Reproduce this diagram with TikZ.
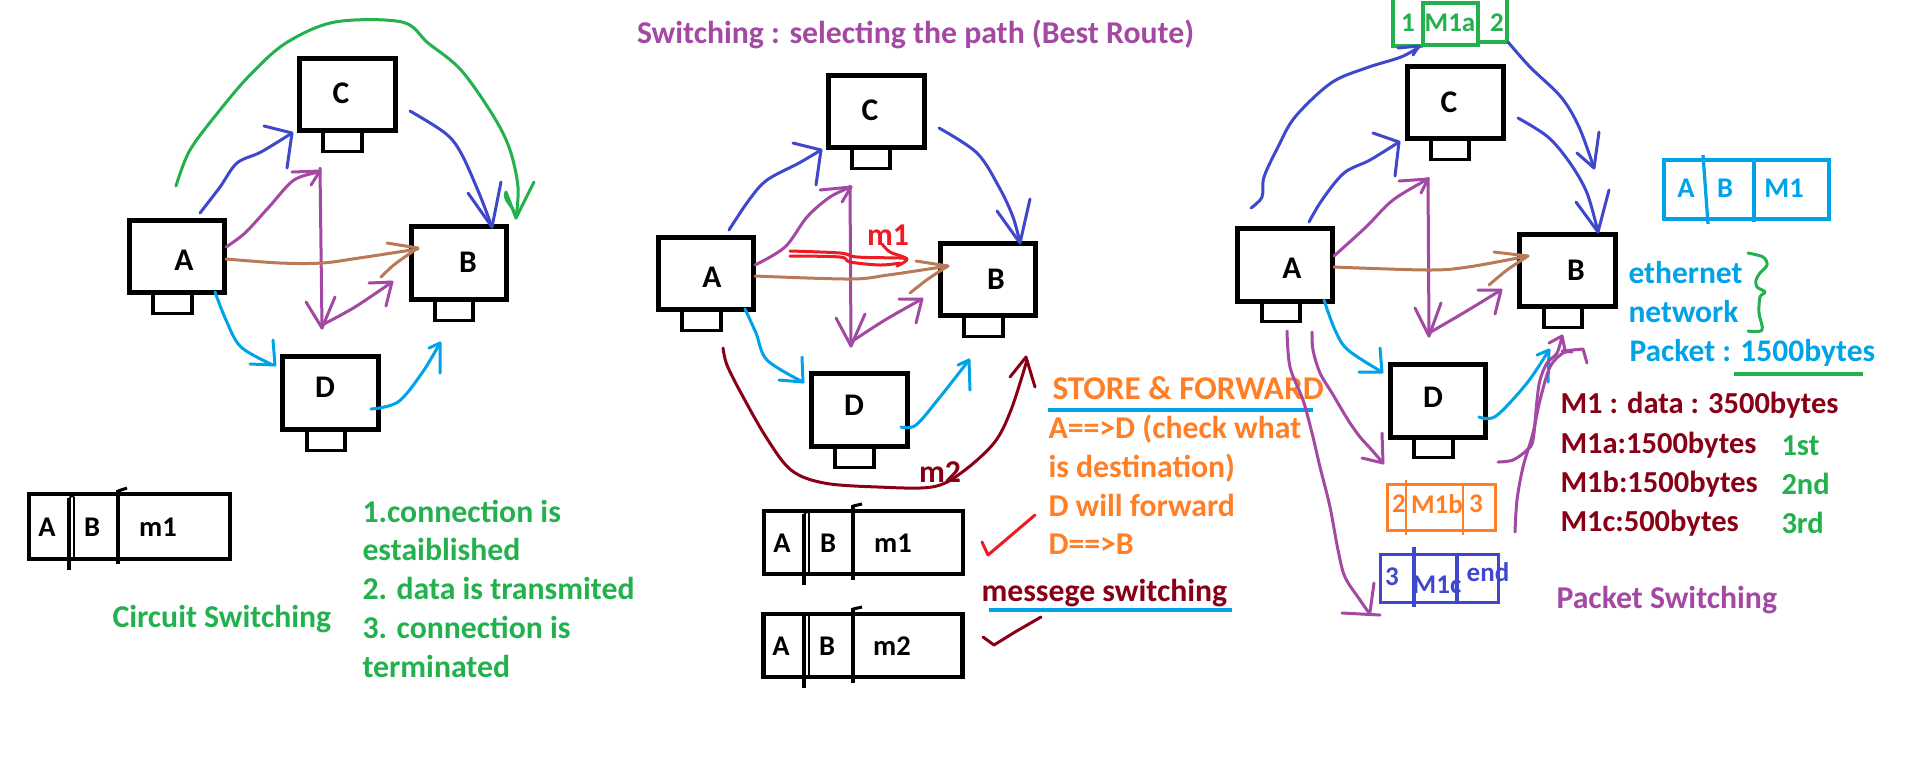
\documentclass[tikz,border=0pt]{standalone}
\usepackage{fontspec}
\setmainfont{Carlito}
\definecolor{ppurple}{HTML}{A349A4}
\definecolor{pindigo}{HTML}{3F48CC}
\definecolor{pblue}{HTML}{00A2E8}
\definecolor{pgreen}{HTML}{22B14C}
\definecolor{pbrown}{HTML}{B97A57}
\definecolor{porange}{HTML}{FF7F27}
\definecolor{pred}{HTML}{ED1C24}
\definecolor{pdark}{HTML}{880015}
\tikzset{
  pen/.style={line width=1.2pt, line cap=round, line join=round},
  pc/.style={draw=black, line width=1.9pt, inner sep=0pt, minimum width=38.2pt, minimum height=29pt},
  sb/.style={draw=black, line width=1.5pt, inner sep=0pt, minimum width=15.4pt, minimum height=8.4pt},
  frame/.style={draw=black, line width=1.7pt, inner sep=0pt},
  lbl/.style={inner sep=0pt, font=\fontsize{12.6}{14}\selectfont\bfseries},
  txt/.style={inner sep=0pt, font=\fontsize{12.7}{14}\selectfont\bfseries},
  btxt/.style={inner sep=0pt, font=\fontsize{12.6}{14}\selectfont\bfseries},
  rtxt/.style={inner sep=0pt, font=\fontsize{12.2}{14}\selectfont\bfseries},
  ftxt/.style={inner sep=0pt, font=\fontsize{11.4}{13}\selectfont\bfseries},
  ptxt/.style={inner sep=0pt, font=\fontsize{10.8}{12}\selectfont\bfseries},
  curve/.style={pen, smooth, tension=0.55},
}
\begin{document}
\begin{tikzpicture}[x=0.4pt, y=-0.4pt]
\fill[white] (0,0) rectangle (1914,763);
\useasboundingbox (0,0) rectangle (1914,763);

% ---------------- title
\node[txt, text=ppurple, anchor=base] (title) at (915.5,43) {Switching : selecting the path (Best Route)};

% ---------------- computers: left diagram
\node[sb] (lCs) at (342.5,141) {};
\node[pc] (lC) at (347.5,94.5) {};
\node[lbl] (lCl) at (341,93) {C};
\node[sb] (lAs) at (172.5,303) {};
\node[pc] (lA) at (177,256.5) {};
\node[lbl] (lAl) at (184,260) {A};
\node[sb] (lBs) at (454,310) {};
\node[pc] (lB) at (459,263) {};
\node[lbl] (lBl) at (468,262) {B};
\node[sb] (lDs) at (326,440) {};
\node[pc] (lD) at (330.5,393) {};
\node[lbl] (lDl) at (325,387) {D};

% ---------------- computers: middle diagram
\node[sb] (mCs) at (871,158) {};
\node[pc] (mC) at (876.5,111.5) {};
\node[lbl] (mCl) at (870,110) {C};
\node[sb] (mAs) at (701.5,320) {};
\node[pc] (mA) at (706,273.5) {};
\node[lbl] (mAl) at (712,277) {A};
\node[sb] (mBs) at (983.5,326) {};
\node[pc] (mB) at (988,279.5) {};
\node[lbl] (mBl) at (996,279) {B};
\node[sb] (mDs) at (854.5,457) {};
\node[pc] (mD) at (859.5,410) {};
\node[lbl] (mDl) at (854,405) {D};

% ---------------- computers: right diagram
\node[sb] (rCs) at (1450,149) {};
\node[pc] (rC) at (1455.5,102.5) {};
\node[lbl] (rCl) at (1449,102) {C};
\node[sb] (rAs) at (1281,311) {};
\node[pc] (rA) at (1285,265) {};
\node[lbl] (rAl) at (1292,268) {A};
\node[sb] (rBs) at (1563,317) {};
\node[pc] (rB) at (1567.5,270.5) {};
\node[lbl] (rBl) at (1576,270) {B};
\node[sb] (rDs) at (1433.5,447) {};
\node[pc] (rD) at (1438,401) {};
\node[lbl] (rDl) at (1433,397) {D};

% ================= left diagram arrows
% green arc A -> B
\draw[pgreen, curve] plot coordinates {(176,186) (190,150) (220,110) (250,75) (286,43) (335,22) (402,22) (428,43) (461,70) (494,117) (510,150) (518,187) (516,218)};
\draw[pgreen, pen] (506,192) -- (516,218) -- (534,182);
\draw[pgreen, pen] (506,192) .. controls (503,200) and (512,205) .. (514,212);
% indigo A -> C -> B
\draw[pindigo, curve] plot coordinates {(200,213) (220,187) (237,163) (261,152) (292,133)};
\draw[pindigo, pen] (264,126) -- (292,133) -- (287,168);
\draw[pindigo, curve] plot coordinates {(410,111) (445,133) (461,153) (479,193) (492,227)};
\draw[pindigo, pen] (468,193) -- (492,227) -- (501,182);
% purple A -> top, vertical, bottom -> B
\draw[ppurple, curve] plot coordinates {(226,247) (245,233) (269,207) (294,180) (320,172)};
\draw[ppurple, pen] (292,172) -- (320,171) -- (311,185);
\draw[ppurple, pen] (320,168) -- (322,328);
\draw[ppurple, pen] (306,302) -- (322,328) -- (335,297);
\draw[ppurple, curve] plot coordinates {(322,325) (355,307) (392,282)};
\draw[ppurple, pen] (369,283) -- (392,282) -- (386,306);
% brown A -> B
\draw[pbrown, curve] plot coordinates {(226,259) (280,263) (322,263) (359,258) (418,249)};
\draw[pbrown, pen] (387,243) -- (418,248);
\draw[pbrown, curve] plot coordinates {(381,277) (395,264) (418,248)};
% light blue A -> D -> B
\draw[pblue, curve] plot coordinates {(215,292) (226,320) (241,347) (273,365)};
\draw[pblue, pen] (250,364) -- (275,365) -- (273,340);
\draw[pblue, curve] plot coordinates {(371,409) (398,402) (422,373) (440,343)};
\draw[pblue, pen] (429,348) -- (440,343) -- (440,373);

% left frame
\node[frame, minimum width=80.4pt, minimum height=26pt] (lF) at (129.5,526.5) {};
\draw[black, line width=1.5pt] (69,498) -- (69,570);
\draw[black, line width=0.6pt] (74,497) -- (74,560);
\draw[black, line width=0.8pt] (69,500) .. controls (70,496) and (72,495) .. (74,497);
\draw[black, line width=1.5pt] (118,490) -- (118,564);
\draw[black, line width=1.2pt] (118,491) -- (127,488);
\node[ftxt] (lFa) at (47,527) {A};
\node[ftxt] (lFb) at (92,527) {B};
\node[ftxt] (lFm) at (158,527) {m1};

% left texts
\node[txt, text=pgreen, anchor=base west] (cs1) at (362,522) {1.connection is};
\node[txt, text=pgreen, anchor=base west] (cs2) at (362,560) {estaiblished};
\node[txt, text=pgreen, anchor=base west] (cs3) at (362,599) {2. data is transmited};
\node[txt, text=pgreen, anchor=base west] (cs4) at (362,638) {3. connection is};
\node[txt, text=pgreen, anchor=base west] (cs5) at (362,677) {terminated};
\node[txt, text=pgreen, anchor=base west] (circ) at (112,627) {Circuit Switching};

% ================= middle diagram arrows
\draw[pindigo, curve] plot coordinates {(729,230) (749,200) (767,180) (799,163) (821,150)};
\draw[pindigo, pen] (793,143) -- (821,150) -- (816,185);
\draw[pindigo, curve] plot coordinates {(939,128) (977,153) (999,187) (1013,217) (1020,243)};
\draw[pindigo, pen] (997,211) -- (1020,243) -- (1030,199);
\draw[ppurple, curve] plot coordinates {(755,265) (785,247) (807,217) (830,197) (851,187)};
\draw[ppurple, pen] (820,190) -- (851,187) -- (842,202);
\draw[ppurple, pen] (850,186) -- (851,346);
\draw[ppurple, pen] (836,318) -- (851,346) -- (865,314);
\draw[ppurple, curve] plot coordinates {(851,342) (885,320) (922,299)};
\draw[ppurple, pen] (899,299) -- (922,299) -- (916,323);
\draw[pbrown, curve] plot coordinates {(755,276) (850,279) (888,275) (948,266)};
\draw[pbrown, pen] (916,261) -- (948,266);
\draw[pbrown, curve] plot coordinates {(910,293) (928,279) (948,266)};
% red m1 arrow
\draw[pred, curve] plot coordinates {(790,251) (840,253) (857,257) (900,258) (907,259)};
\draw[pred, curve] plot coordinates {(790,256) (840,257) (850,262) (880,265) (900,263)};
\draw[pred, curve] plot coordinates {(882,244) (890,252) (907,259) (897,266)};
\node[txt, text=pred] (m1) at (888,235) {m1};
% light blue
\draw[pblue, curve] plot coordinates {(745,309) (756,333) (767,360) (803,382)};
\draw[pblue, pen] (779,380) -- (803,382) -- (802,357);
\draw[pblue, curve] plot coordinates {(901,427) (916,425) (940,397) (969,360)};
\draw[pblue, pen] (958,365) -- (969,360) -- (970,390);
% dark red m2 arc
\draw[pdark, curve] plot coordinates {(723,348) (727,365) (741,393) (766,437) (791,470) (824,483) (878,487) (932,487) (961,473) (994,443) (1011,410) (1027,360)};
\draw[pdark, pen] (1010,377) -- (1026,357) -- (1035,387);
\node[txt, text=pdark] (m2) at (940,472) {m2};

% middle frames
\node[frame, minimum width=79.6pt, minimum height=25.2pt] (mF1) at (863.5,542.5) {};
\draw[black, line width=1.5pt] (804,514) -- (804,585);
\draw[black, line width=0.6pt] (809,513) -- (809,576);
\draw[black, line width=0.8pt] (804,516) .. controls (805,512) and (807,511) .. (809,513);
\draw[black, line width=1.5pt] (853,505) -- (853,580);
\draw[black, line width=1.2pt] (853,506) -- (862,504);
\node[ftxt] (mF1a) at (782,543) {A};
\node[ftxt] (mF1b) at (828,543) {B};
\node[ftxt] (mF1m) at (893,543) {m1};
\node[frame, minimum width=79.6pt, minimum height=25.2pt] (mF2) at (863,645.5) {};
\draw[black, line width=1.5pt] (804,616) -- (804,688);
\draw[black, line width=0.6pt] (809,615) -- (809,679);
\draw[black, line width=0.8pt] (804,618) .. controls (805,614) and (807,613) .. (809,615);
\draw[black, line width=1.5pt] (853,608) -- (853,683);
\draw[black, line width=1.2pt] (853,609) -- (862,607);
\node[ftxt] (mF2a) at (781,646) {A};
\node[ftxt] (mF2b) at (827,646) {B};
\node[ftxt] (mF2m) at (892,646) {m2};
% check marks
\draw[pred, pen] (982,542) -- (988,555) -- (1035,515);
\draw[pdark, pen] (983,637) -- (994,645) -- (1015,632) -- (1041,617);

% middle texts
\node[inner sep=0pt, font=\fontsize{13.3}{15}\selectfont\bfseries, text=porange, anchor=base west] (sf) at (1052,399) {STORE \& FORWARD};
\draw[pblue, line width=1.4pt] (1048,410) -- (1313,410);
\node[txt, text=porange, anchor=base west] (sf1) at (1048,438) {A==>D (check what};
\node[txt, text=porange, anchor=base west] (sf2) at (1048,477) {is destination)};
\node[txt, text=porange, anchor=base west] (sf3) at (1048,516) {D will forward};
\node[txt, text=porange, anchor=base west] (sf4) at (1048,554) {D==>B};
\node[txt, text=pdark, anchor=base west] (msw) at (981,601) {messege switching};
\draw[pblue, line width=1.4pt] (989,610) -- (1232,610);

% ================= right diagram
% green packet at top
\draw[pgreen, line width=1.3pt] (1393,-2) -- (1393,46) -- (1423,46);
\draw[pgreen, line width=1.6pt] (1423,3) rectangle (1478,45);
\draw[pgreen, line width=1.3pt] (1478,42) -- (1507,42) -- (1507,-2);
\node[ptxt, text=pgreen] (g1) at (1408,23) {1};
\node[ptxt, text=pgreen] (gM) at (1450,23) {M1a};
\node[ptxt, text=pgreen] (g2) at (1497,23) {2};
% indigo arrows
\draw[pindigo, curve] plot coordinates {(1251,208) (1262,197) (1264,177) (1278,147) (1295,117) (1331,83) (1366,68) (1401,57) (1419,47)};
\draw[pindigo, pen] (1398,48) -- (1419,46) -- (1413,55);
\draw[pindigo, curve] plot coordinates {(1508,42) (1530,67) (1561,97) (1579,127) (1594,168)};
\draw[pindigo, pen] (1577,153) -- (1594,168) -- (1599,132);
\draw[pindigo, curve] plot coordinates {(1309,222) (1322,200) (1344,173) (1370,160) (1399,142)};
\draw[pindigo, pen] (1373,133) -- (1399,142) -- (1395,176);
\draw[pindigo, curve] plot coordinates {(1518,118) (1548,137) (1570,163) (1587,193) (1598,232)};
\draw[pindigo, pen] (1576,202) -- (1598,232) -- (1609,190);
% purple
\draw[ppurple, curve] plot coordinates {(1334,256) (1366,227) (1393,200) (1428,179)};
\draw[ppurple, pen] (1399,181) -- (1428,179) -- (1421,193);
\draw[ppurple, pen] (1428,178) -- (1429,336);
\draw[ppurple, pen] (1415,308) -- (1429,336) -- (1441,303);
\draw[ppurple, curve] plot coordinates {(1429,333) (1465,312) (1501,290)};
\draw[ppurple, pen] (1478,290) -- (1501,290) -- (1495,314);
% brown
\draw[pbrown, curve] plot coordinates {(1334,267) (1428,270) (1468,267) (1528,256)};
\draw[pbrown, pen] (1494,252) -- (1528,256);
\draw[pbrown, curve] plot coordinates {(1489,285) (1507,270) (1528,256)};
% light blue
\draw[pblue, curve] plot coordinates {(1324,300) (1335,330) (1348,350) (1382,372)};
\draw[pblue, pen] (1359,372) -- (1382,372) -- (1380,348);
\draw[pblue, curve] plot coordinates {(1479,417) (1496,416) (1527,383) (1549,350)};
\draw[pblue, pen] (1537,355) -- (1549,350) -- (1548,382);
% long purple arcs
\draw[ppurple, curve] plot coordinates {(1287,331) (1290,367) (1303,400) (1312,433) (1320,467) (1330,507) (1338,550) (1345,577) (1360,600) (1369,613)};
\draw[ppurple, pen] (1342,613) -- (1380,615);
\draw[ppurple, pen] (1374,583) -- (1370,612);
\draw[ppurple, curve] plot coordinates {(1312,332) (1313,350) (1320,373) (1332,393) (1342,410) (1350,423) (1360,437) (1370,448) (1383,463)};
\draw[ppurple, pen] (1362,458) -- (1383,463) -- (1382,433);
\draw[ppurple, curve] plot coordinates {(1498,462) (1513,460) (1527,450) (1533,440) (1537,400) (1540,380) (1547,363) (1557,353) (1562,336)};
\draw[ppurple, pen] (1549,343) -- (1562,336) -- (1565,350);
\draw[ppurple, curve] plot coordinates {(1515,532) (1517,500) (1523,467) (1533,433) (1540,400) (1550,367) (1563,353) (1572,352)};
\draw[ppurple, pen] (1562,351) -- (1583,349) -- (1587,363);

% orange packet
\node[draw=porange, line width=1.3pt, inner sep=0pt, minimum width=43.2pt, minimum height=18.4pt] (oP) at (1441.5,507.5) {};
\draw[porange, line width=0.9pt] (1406,480) -- (1406,535);
\draw[porange, line width=0.9pt] (1463,484) -- (1463,535);
\node[ptxt, text=porange] (o2) at (1399,504) {2};
\node[ptxt, text=porange] (oM) at (1437,504) {M1b};
\node[ptxt, text=porange] (o3) at (1476,504) {3};
% indigo packet
\node[draw=pindigo, line width=1.3pt, inner sep=0pt, minimum width=47.2pt, minimum height=19.2pt] (iP) at (1439.5,578.5) {};
\draw[pindigo, line width=1.8pt] (1414,547) -- (1414,607);
\draw[pindigo, line width=1.3pt] (1457,553) -- (1457,604);
\node[ptxt, text=pindigo] (i3) at (1392,577) {3};
\node[ptxt, text=pindigo] (iM) at (1437,585) {M1c};
\node[ptxt, text=pindigo] (ie) at (1488,572) {end};

% light blue frame A B M1
\node[draw=pblue, line width=1.6pt, inner sep=0pt, minimum width=66pt, minimum height=23.6pt] (bF) at (1746.5,189.5) {};
\draw[pblue, line width=1.3pt] (1703,155) -- (1708,224);
\draw[pblue, line width=1.3pt] (1754,158) -- (1754,222);
\node[ftxt, text=pblue] (bFa) at (1686,188) {A};
\node[ftxt, text=pblue] (bFb) at (1725,188) {B};
\node[ftxt, text=pblue] (bFm) at (1784,188) {M1};

% right texts
\node[btxt, text=pblue, anchor=base west] (eth) at (1628,283) {ethernet};
\node[btxt, text=pblue, anchor=base west] (net) at (1628,322) {network};
\node[btxt, text=pblue, anchor=base west] (pkt) at (1629,361) {Packet : 1500bytes};
\draw[pgreen, line width=1.3pt] (1734,374) -- (1863,374);
\draw[pgreen, curve] plot coordinates {(1748,253) (1763,257) (1767,265) (1760,273) (1756,280) (1757,287) (1765,292) (1760,297) (1759,313) (1762,330) (1748,331)};
\node[rtxt, text=pdark, anchor=base west] (d0) at (1560,413) {M1 : data : 3500bytes};
\node[rtxt, text=pdark, anchor=base west] (d1) at (1560,453) {M1a:1500bytes};
\node[rtxt, text=pdark, anchor=base west] (d2) at (1560,492) {M1b:1500bytes};
\node[rtxt, text=pdark, anchor=base west] (d3) at (1560,531) {M1c:500bytes};
\node[rtxt, text=pgreen, anchor=base west] (o1st) at (1781,455) {1st};
\node[rtxt, text=pgreen, anchor=base west] (o2nd) at (1781,494) {2nd};
\node[rtxt, text=pgreen, anchor=base west] (o3rd) at (1781,533) {3rd};
\node[txt, text=ppurple, anchor=base west] (psw) at (1556,608) {Packet Switching};
\end{tikzpicture}
\end{document}
